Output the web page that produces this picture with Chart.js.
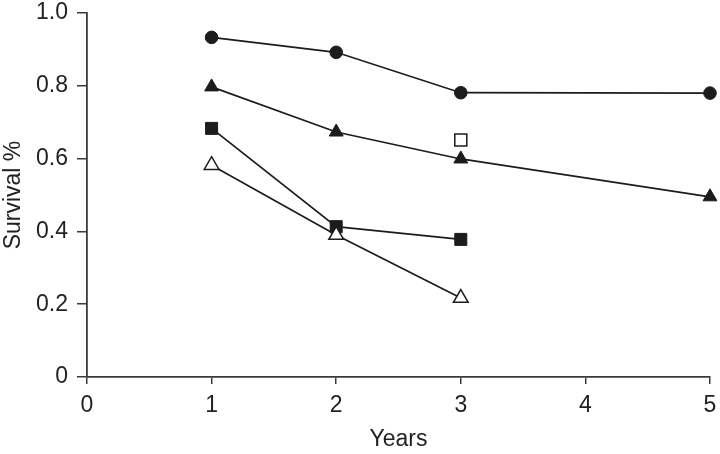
<!DOCTYPE html>
<html>
<head>
<meta charset="utf-8">
<script src="https://cdn.jsdelivr.net/npm/chart.js@4.4.1/dist/chart.umd.min.js"></script>
<style>
  html, body { margin: 0; padding: 0; background: #ffffff; }
  #wrap { width: 720px; height: 454px; }
</style>
</head>
<body>
<div id="wrap"><canvas id="c" width="720" height="454"></canvas></div>
<script>
const circleYears = [1, 2, 3, 5];
const circleSurvival = [0.933, 0.892, 0.781, 0.780];

const filledTriYears = [1, 2, 3, 5];
const filledTriSurvival = [0.797, 0.673, 0.599, 0.495];

const squareYears = [1, 2, 3];
const squareSurvival = [0.683, 0.413, 0.378];

const openTriYears = [1, 2, 3];
const openTriSurvival = [0.582, 0.390, 0.217];

const openSquareYears = [3];
const openSquareSurvival = [0.651];

const xTicks = [0, 1, 2, 3, 4, 5];
const yTickLabels = ['0', '0.2', '0.4', '0.6', '0.8', '1.0'];

const ink = '#1c1c1c';
const axisColor = '#3a3a3a';
const fontFamily = '"Liberation Sans", Arial, Helvetica, sans-serif';
const fontSize = 23;

function pts(xs, ys) { return xs.map((x, i) => ({ x: x, y: ys[i] })); }

const datasets = [
  { label: 'open triangle', data: pts(openTriYears, openTriSurvival), pointStyle: 'triangle', pointRadius: 8.5,
    backgroundColor: '#ffffff', borderColor: ink, pointBorderWidth: 1.5, borderWidth: 1.7, showLine: true },
  { label: 'open square', data: pts(openSquareYears, openSquareSurvival), pointStyle: 'rect', pointRadius: 8.5,
    backgroundColor: '#ffffff', borderColor: ink, pointBorderWidth: 1.5, borderWidth: 1.7, showLine: false },
  { label: 'filled square', data: pts(squareYears, squareSurvival), pointStyle: 'rect', pointRadius: 8.5,
    backgroundColor: ink, borderColor: ink, pointBorderWidth: 1, borderWidth: 1.7, showLine: true },
  { label: 'filled triangle', data: pts(filledTriYears, filledTriSurvival), pointStyle: 'triangle', pointRadius: 8,
    backgroundColor: ink, borderColor: ink, pointBorderWidth: 1, borderWidth: 1.7, showLine: true },
  { label: 'circle', data: pts(circleYears, circleSurvival), pointStyle: 'circle', pointRadius: 6.3,
    backgroundColor: ink, borderColor: ink, pointBorderWidth: 1, borderWidth: 1.7, showLine: true }
];
datasets.forEach(d => { d.clip = false; d.tension = 0; d.fill = false; d.pointHoverRadius = d.pointRadius; });

new Chart(document.getElementById('c'), {
  type: 'line',
  data: { datasets: datasets },
  options: {
    responsive: false,
    animation: false,
    devicePixelRatio: 1,
    layout: { padding: { left: 0, right: 0, top: 0, bottom: 0 } },
    plugins: { legend: { display: false }, tooltip: { enabled: false } },
    scales: {
      x: {
        type: 'linear', min: 0, max: 5,
        afterBuildTicks: s => { s.ticks = xTicks.map(v => ({ value: v })); },
        afterFit: s => { s.height = 77; s.paddingRight = 9.5; },
        grid: { display: true, drawOnChartArea: false, drawTicks: true, tickLength: 7, color: axisColor, lineWidth: 1.5 },
        border: { display: true, color: axisColor, width: 1.8 },
        ticks: { color: '#222', font: { family: fontFamily, size: fontSize }, padding: 8, maxRotation: 0 },
        title: { display: true, text: 'Years', color: '#222', font: { family: fontFamily, size: fontSize }, padding: { top: 0, bottom: 1 } }
      },
      y: {
        type: 'linear', min: 0, max: 1,
        afterBuildTicks: s => { s.ticks = yTickLabels.map((t, i) => ({ value: i * 0.2 })); },
        afterFit: s => { s.width = 87; s.paddingTop = 13; },
        grid: { display: true, drawOnChartArea: false, drawTicks: true, tickLength: 10, color: axisColor, lineWidth: 1.5 },
        border: { display: true, color: axisColor, width: 1.8 },
        ticks: { color: '#222', font: { family: fontFamily, size: fontSize }, padding: 9,
          callback: (v, i) => yTickLabels[i] },
        title: { display: true, text: 'Survival %', color: '#222', font: { family: fontFamily, size: fontSize }, padding: { top: 0, bottom: 0 } }
      }
    }
  }
});
</script>
</body>
</html>
